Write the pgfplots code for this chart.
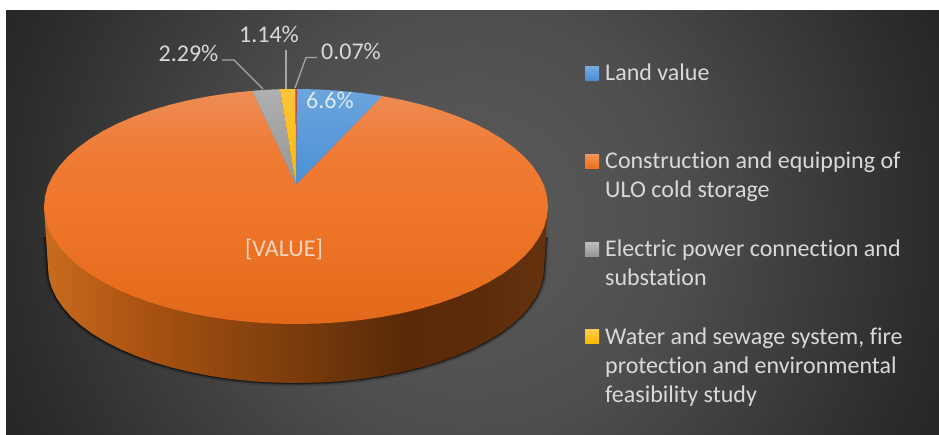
\documentclass[border=0pt]{standalone}
\usepackage{pgfplots}
\usepackage{pgfplotstable}
\usepackage{fontspec}
\setmainfont[Ligatures=NoCommon]{Carlito}
\pgfplotsset{compat=1.18}
\definecolor{txt}{HTML}{D9D9D9}
\definecolor{bgA}{HTML}{5C5C5C}
\definecolor{bgB}{HTML}{4E4E4E}
\definecolor{bgC}{HTML}{2B2B2B}
\definecolor{bgD}{HTML}{242424}
\definecolor{sA}{HTML}{C86C1E}
\definecolor{sB}{HTML}{AE5512}
\definecolor{sC}{HTML}{7A3C0C}
\definecolor{sD}{HTML}{5A2A08}
\definecolor{sE}{HTML}{5C2C0A}
\definecolor{sF}{HTML}{663210}
\definecolor{oA}{HTML}{EE8C55}
\definecolor{oB}{HTML}{EF7B35}
\definecolor{oC}{HTML}{F0762A}
\definecolor{oD}{HTML}{E3691A}
\pgfdeclareradialshading{bgshade}{\pgfpointorigin}{color(0bp)=(bgA); color(10bp)=(bgB); color(22bp)=(bgC); color(25bp)=(bgD); color(50bp)=(bgD)}
\pgfdeclarehorizontalshading{sideshade}{100bp}{color(0bp)=(sA); color(25bp)=(sA); color(33.5bp)=(sB); color(50bp)=(sC); color(60.3bp)=(sD); color(68.3bp)=(sE); color(75bp)=(sF); color(100bp)=(sF)}
\pgfdeclareverticalshading{topshade}{100bp}{color(0bp)=(oD); color(25bp)=(oD); color(50bp)=(oC); color(62bp)=(oB); color(75bp)=(oA); color(100bp)=(oA)}
% front wall of the pie (lower rim), pixel coordinates
\pgfplotstableread{
x y
548 206.5
546 237
544 268
543.1 278
540.2 288
535.5 297.8
529 307.3
520.8 316.6
510.8 325.5
499.2 334
486 341.9
471.4 349.3
455.4 356.1
438.3 362.2
420 367.6
400.8 372.2
380.8 376.1
360.2 379.1
339.1 381.3
317.6 382.6
296 383
274.4 382.6
252.9 381.3
231.8 379.1
211.2 376.1
191.2 372.2
172 367.6
153.7 362.2
136.6 356.1
120.6 349.3
106 341.9
92.8 334
81.2 325.5
71.2 316.6
63 307.3
56.5 297.8
51.8 288
48.9 278
48 268
46 237
44 206.5
}\sidearc
\newcommand{\txt}[3]{\node[anchor=base west,inner sep=0pt,text=txt,font=\fontsize{24}{26}\selectfont] at (axis cs:#1,#2) {#3};}
\begin{document}
\begin{tikzpicture}
\useasboundingbox (0,0) rectangle (939pt,434pt);
\begin{axis}[at={(0,0)},anchor=south west,scale only axis,width=939pt,height=434pt,
  xmin=0,xmax=939,ymin=0,ymax=434,y dir=reverse,hide axis,no markers,clip=true]
% background
\begin{scope}
\clip (axis cs:6,10) rectangle (axis cs:939,434);
\path[overlay,shading=bgshade] (axis cs:-60,-310) rectangle (axis cs:1000,750);
\end{scope}
% soft shadow under the pie
\addplot[draw=black,opacity=.12,line width=7pt,restrict y to domain=235:400] table {\sidearc};
\addplot[draw=black,opacity=.25,line width=4pt,restrict y to domain=235:400] table {\sidearc};
\addplot[draw=black,opacity=.45,line width=2pt,restrict y to domain=235:400] table {\sidearc};
% wall
\addplot[shading=sideshade,draw=none] table {\sidearc} -- cycle;
% Land value 6.6 %
\addplot[draw=none,top color={rgb,255:red,108;green,165;blue,222},bottom color={rgb,255:red,74;green,144;blue,212}] coordinates {(296,185)(297,89)(318,89.4)(339.7,90.8)(361.2,93)(382.2,96.1)} -- cycle;
% Construction and equipping
\addplot[draw=none,shading=topshade] coordinates {
(296,185)(382.2,96.1)(402.5,100)(422,104.7)(440.5,110.2)(458,116.5)(474.2,123.4)(489,131)(502.4,139.1)(514.2,147.75)(524.4,156.8)(532.8,166.3)(539.4,176.1)(544.2,186.1)(547,196.3)(548,206.5)
(547,216.7)(544.2,226.9)(539.4,236.9)(532.8,246.7)(524.4,256.2)(514.2,265.25)(502.4,273.9)(489,282)(474.2,289.6)(458,296.5)(440.5,302.8)(422,308.3)(402.5,313)(382.2,316.9)(361.2,320)(339.7,322.2)(318,323.6)(296,324)
(274,323.6)(252.3,322.2)(230.8,320)(209.8,316.9)(189.5,313)(170,308.3)(151.5,302.8)(134,296.5)(117.8,289.6)(103,282)(89.6,273.9)(77.8,265.25)(67.6,256.2)(59.2,246.7)(52.6,236.9)(47.8,226.9)(45,216.7)(44,206.5)
(45,196.3)(47.8,186.1)(52.6,176.1)(59.2,166.3)(67.6,156.8)(77.8,147.75)(89.6,139.1)(103,131)(117.8,123.4)(134,116.5)(151.5,110.2)(170,104.7)(189.5,100)(209.8,96.1)(230.8,93)(252.3,90.8)} -- cycle;
% Electric power 2.29 %
\addplot[draw=none,top color={rgb,255:red,176;green,176;blue,176},bottom color={rgb,255:red,150;green,150;blue,150}] coordinates {(296,185)(252.3,90.8)(263,90)(274,89.4)(280,89.2)} -- cycle;
% Water and sewage 1.14 %
\addplot[draw=none,top color={rgb,255:red,255;green,196;blue,60},bottom color={rgb,255:red,252;green,190;blue,0}] coordinates {(296,185)(280,89.2)(288,89.05)(295.6,89)} -- cycle;
% 0.07 %
\addplot[draw=none,fill={rgb,255:red,190;green,80;blue,70}] coordinates {(296,185)(295.6,89)(297,89)} -- cycle;
% leaders
\addplot[color=black!35,line width=1.3pt] coordinates {(222,60)(234,60)(263,89)};
\addplot[color=black!35,line width=1.3pt] coordinates {(286,50)(286,89)};
\addplot[color=black!35,line width=1.3pt] coordinates {(317,57.5)(306,57.5)(295,88)};
% data labels
\node[text=txt,inner sep=0pt,font=\fontsize{24}{26}\selectfont] at (axis cs:188.5,53) {2.29\%};
\node[text=txt,inner sep=0pt,font=\fontsize{24}{26}\selectfont] at (axis cs:269,34) {1.14\%};
\node[text=txt,inner sep=0pt,font=\fontsize{24}{26}\selectfont] at (axis cs:351,51) {0.07\%};
\node[text={rgb,255:red,222;green,232;blue,242},inner sep=0pt,font=\fontsize{24}{26}\selectfont] at (axis cs:330,100) {6.6\%};
\node[text={rgb,255:red,242;green,212;blue,192},inner sep=0pt,font=\fontsize{24}{26}\selectfont] at (axis cs:284,249) {[VALUE]};
% legend
\fill[top color={rgb,255:red,120;green,172;blue,226},bottom color={rgb,255:red,72;green,142;blue,212}] (axis cs:585,66) rectangle (axis cs:599,80.5);
\fill[top color={rgb,255:red,245;green,150;blue,90},bottom color={rgb,255:red,238;green,110;blue,28}] (axis cs:585,154) rectangle (axis cs:599,168);
\fill[top color={rgb,255:red,190;green,190;blue,190},bottom color={rgb,255:red,150;green,150;blue,150}] (axis cs:585,242) rectangle (axis cs:599,256);
\fill[top color={rgb,255:red,255;green,205;blue,80},bottom color={rgb,255:red,250;green,185;blue,0}] (axis cs:585,329) rectangle (axis cs:599,343);
\txt{605}{80}{Land value}
\txt{605}{168}{Construction and equipping of}
\txt{605}{197.5}{ULO cold storage}
\txt{605}{256}{Electric power connection and}
\txt{605}{285}{substation}
\txt{605}{344}{Water and sewage system, fire}
\txt{605}{373}{protection and environmental}
\txt{605}{402}{feasibility study}
\end{axis}
\end{tikzpicture}
\end{document}
